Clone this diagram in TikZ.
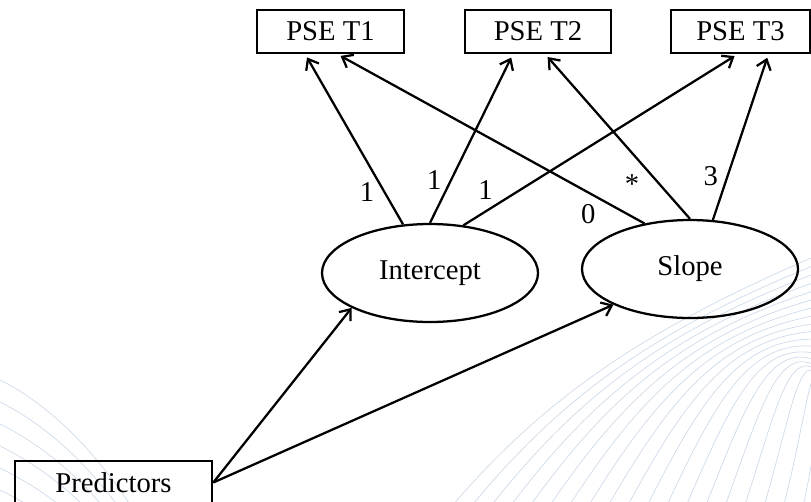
\documentclass[tikz,border=0pt]{standalone}
\usepackage{fontspec}
\setmainfont{Liberation Serif}
\usetikzlibrary{arrows.meta,shapes.geometric}

\definecolor{swoosh}{RGB}{205,217,232}

\begin{document}
\begin{tikzpicture}[x=0.75pt,y=-0.75pt,line width=1.7pt,
    >={Straight Barb[length=7pt,width=11pt]},
    font=\fontsize{21.5}{25}\selectfont,
    obs/.style={draw, rectangle, minimum width=110pt, minimum height=32pt, inner sep=0pt},
    lat/.style={draw, ellipse, minimum width=162pt, minimum height=73.5pt, inner sep=0pt},
    lbl/.style={inner sep=0pt}]

  \path[use as bounding box, clip] (0,0) rectangle (811,501);

  % faint background lines
  \foreach \i in {0,...,5}
    \draw[swoosh, line width=0.5pt] (0,380+22*\i) .. controls (40,400+22*\i) and (90,440+20*\i) .. (140,520+18*\i);
  \foreach \i in {0,...,18}
    \draw[swoosh, line width=0.5pt] (440+20*\i,520) .. controls (540+16*\i,400) and (640+10*\i,330) .. (830,250+9*\i);

  \node[obs] (t1) at (330.5,31.5) {PSE T1};
  \node[obs] (t2) at (538,31.5) {PSE T2};
  \node[obs, minimum width=104pt] (t3) at (740.5,31.5) {PSE T3};

  \node[lat] (icpt) at (430,273) {Intercept};
  \node[lat] (slope) at (690,269) {Slope};

  \node[obs, minimum width=148pt] (pred) at (113.5,482.5) {Predictors};

  \draw[->, shorten >=3pt] (icpt.119) -- node[lbl, pos=0.235, shift={(-12.9,7.5)}]{1} ([xshift=-19.1pt]t1.south);
  \draw[->, shorten >=3pt] (icpt.north) -- node[lbl, pos=0.216, shift={(-13.7,-6.7)}]{1} ([xshift=-18.75pt]t2.south);
  \draw[->, shorten >=3pt] (icpt.55) -- node[lbl, pos=0.116, shift={(-9.6,-15.5)}]{1} ([xshift=-1.9pt]t3.south);
  \draw[->, shorten >=3pt] (slope.135) -- node[lbl, pos=0.154, shift={(-8.9,16.4)}]{0} ([xshift=4.9pt]t1.south);
  \draw[->, shorten >=3pt] (slope.north) -- node[lbl, pos=0.296, shift={(-15.1,13.6)}]{*} ([xshift=5.25pt]t2.south);
  \draw[->, shorten >=3pt] (slope.65) -- node[lbl, pos=0.232, shift={(-15,-5.2)}]{3} ([xshift=21pt]t3.south);

  \draw[->] (pred.east) -- (icpt.204);
  \draw[->] (pred.east) -- (slope.205);

\end{tikzpicture}
\end{document}
